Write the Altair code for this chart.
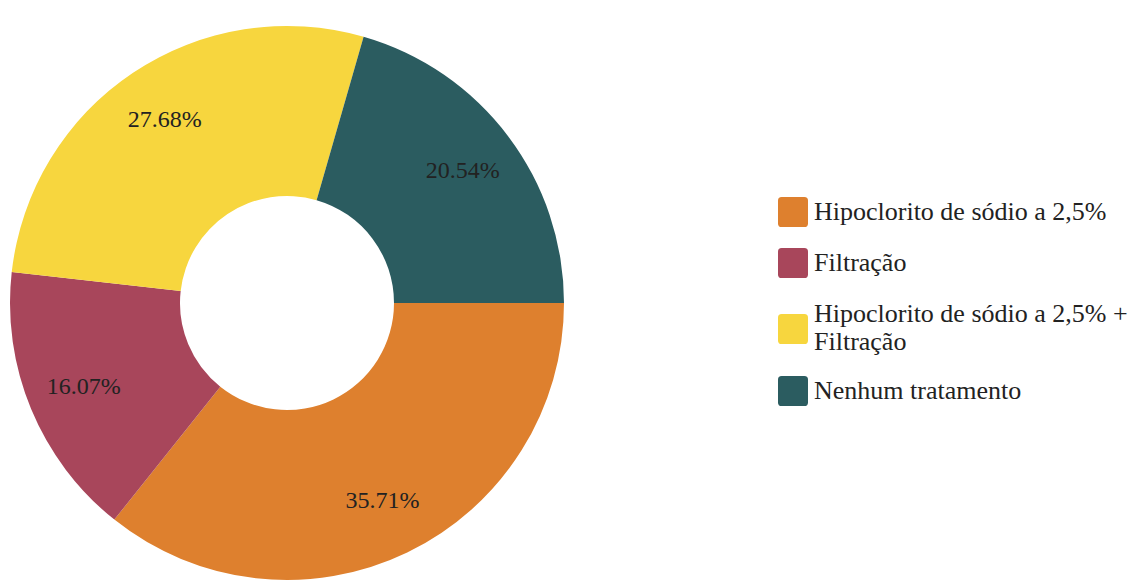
import math
import altair as alt
import pandas as pd

categories = [
    "Hipoclorito de sódio a 2,5%",
    "Filtração",
    "Hipoclorito de sódio a 2,5% + Filtração",
    "Nenhum tratamento",
]
values = [35.71, 16.07, 27.68, 20.54]
labels = ["35.71%", "16.07%", "27.68%", "20.54%"]
colors = ["#de802e", "#a8465b", "#f7d63e", "#2b5c60"]

FONT = "Liberation Serif"

df = pd.DataFrame({
    "cat": categories,
    "value": values,
    "label": labels,
    "idx": list(range(len(categories))),
})

rounded = ("M -0.76 -1 H 0.76 Q 1 -1 1 -0.76 V 0.76 Q 1 1 0.76 1 "
           "H -0.76 Q -1 1 -1 0.76 V -0.76 Q -1 -1 -0.76 -1 Z")
rounded_low = ("M -0.76 0 H 0.76 Q 1 0 1 0.24 V 1.76 Q 1 2 0.76 2 "
               "H -0.76 Q -1 2 -1 1.76 V 0.24 Q -1 0 -0.76 0 Z")

two_line = categories[2]

base = alt.Chart(df).encode(
    theta=alt.Theta("value:Q", stack=True,
                    scale=alt.Scale(range=[math.pi / 2, math.pi / 2 + 2 * math.pi])),
    order=alt.Order("idx:Q"),
)

arcs = base.mark_arc(outerRadius=277, innerRadius=107).encode(
    color=alt.Color(
        "cat:N",
        scale=alt.Scale(domain=categories, range=colors),
        sort=categories,
        legend=alt.Legend(
            title=None,
            orient="none",
            legendX=778,
            legendY=181,
            symbolType={"expr": f"datum.value == '{two_line}' ? '{rounded_low}' : '{rounded}'"},
            symbolSize=900,
            symbolStrokeWidth=0,
            labelFont=FONT,
            labelFontSize=26,
            labelColor="#222222",
            labelLimit=400,
            rowPadding=21,
            labelOffset=6,
            labelExpr=f"datum.label == '{two_line}' ? ['Hipoclorito de sódio a 2,5% +', 'Filtração'] : datum.label",
        ),
    )
)

text = base.mark_text(radius=220, font=FONT, fontSize=24, color="#222222").encode(
    text="label:N"
)

chart = (arcs + text).properties(
    width=574,
    height=574,
    padding={"left": 0, "top": 16, "right": 0, "bottom": 0},
).configure_view(stroke=None)

chart.save("out.html", embed_options={"renderer": "svg", "actions": False})
